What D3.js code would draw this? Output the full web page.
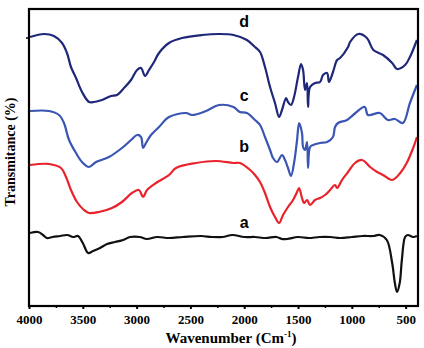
<!DOCTYPE html>
<html><head><meta charset="utf-8">
<script src="https://cdn.jsdelivr.net/npm/d3@7"></script>
<style>body{margin:0;background:#fff}svg{display:block}
.serif{font-family:'Liberation Serif','Times New Roman',Times,serif;font-weight:bold;fill:#000}
.sans{font-family:'Liberation Sans',Arial,sans-serif;font-weight:bold;fill:#000}
</style>
</head><body>
<script>
// wavenumber (cm-1), transmittance (arbitrary offset units)
const curveD = [[3990,269],[3861,272],[3768,270],[3693,263],[3647,253],[3610,239],[3563,228],[3507,214],[3442,204],[3396,204],[3322,206],[3238,210],[3182,211],[3117,218],[3052,226],[2996,236],[2959,238],[2922,230],[2885,236],[2838,244],[2792,253],[2699,263],[2578,268],[2392,271],[2234,272],[2100,271],[1975,266],[1900,259],[1853,254],[1807,239],[1760,219],[1714,203],[1676,189],[1649,196],[1611,208],[1593,204],[1565,201],[1537,209],[1500,229],[1472,242],[1453,236],[1435,216],[1416,223],[1407,199],[1388,219],[1342,223],[1295,224],[1268,231],[1230,233],[1212,224],[1175,234],[1137,246],[1109,248],[1035,259],[1016,264],[940,272],[860,268],[800,256],[710,251],[625,243],[580,237],[505,241],[460,249],[395,266]];
const curveC = [[3990,195],[3814,195],[3721,191],[3675,183],[3628,166],[3563,153],[3507,144],[3442,139],[3377,144],[3257,149],[3136,158],[3052,166],[2996,171],[2959,169],[2940,158],[2913,163],[2866,171],[2792,179],[2699,189],[2541,193],[2485,191],[2355,195],[2234,201],[2100,199],[2040,194],[1975,193],[1900,186],[1853,181],[1807,169],[1760,156],[1732,148],[1695,144],[1649,151],[1621,146],[1593,138],[1565,130],[1537,143],[1509,166],[1490,183],[1463,173],[1453,159],[1435,156],[1416,164],[1407,138],[1388,159],[1360,161],[1295,163],[1230,164],[1175,169],[1156,179],[1128,183],[1044,186],[988,191],[880,199],[850,191],[740,193],[665,186],[600,187],[525,183],[460,203],[395,221]];
const curveB = [[3990,141],[3814,142],[3703,138],[3656,129],[3610,116],[3554,104],[3489,96],[3442,93],[3349,94],[3229,98],[3136,104],[3043,113],[2978,116],[2940,109],[2903,116],[2820,123],[2699,131],[2634,138],[2448,143],[2262,145],[2100,143],[2040,143],[1945,136],[1900,131],[1853,124],[1807,113],[1760,99],[1714,89],[1676,83],[1639,91],[1593,99],[1546,106],[1509,114],[1490,118],[1463,108],[1444,103],[1416,106],[1388,101],[1342,106],[1295,108],[1249,111],[1202,116],[1156,121],[1137,118],[1091,126],[1035,134],[970,143],[905,146],[830,139],[765,134],[710,131],[625,126],[550,133],[490,143],[430,158],[395,169]];
const curveA = [[3990,73],[3915,74],[3870,71],[3835,68],[3780,69],[3710,70],[3645,71],[3590,69],[3545,70],[3500,63],[3450,53],[3405,55],[3340,58],[3275,62],[3200,64],[3125,66],[3060,69],[2970,69],[2905,67],[2810,69],[2700,68],[2570,69],[2400,70],[2300,69],[2200,69],[2110,71],[2000,69],[1900,69],[1800,68],[1700,69],[1650,67],[1600,67],[1500,69],[1400,68],[1300,69],[1200,69],[1110,68],[1000,69],[900,70],[800,70],[740,71],[675,66],[625,43],[600,23],[580,14],[555,23],[535,46],[505,69],[480,71],[430,69],[395,70]];
const seriesNames = ["a","b","c","d"];
const seriesColors = ["#111111","#e8232b","#3b55b3","#1f2878"];
const labelPos = [[2000,78],[2000,154],[2000,205],[2000,279]];
const xTicks = [4000,3500,3000,2500,2000,1500,1000,500];
const xMinor = [3750,3250,2750,2250,1750,1250,750];

const W=424,H=348;
const m={l:29,r:6,t:9,b:42};
const svg=d3.select("body").append("svg").attr("width",W).attr("height",H);
const x=d3.scaleLinear().domain([4000,385]).range([m.l,W-m.r]);
const y=d3.scaleLinear().domain([0,297]).range([H-m.b,m.t]);
const line=d3.line().x(d=>x(d[0])).y(d=>y(d[1])).curve(d3.curveCatmullRom.alpha(0.5));
const data=[curveA,curveB,curveC,curveD];
data.forEach((c,i)=>{
  svg.append("path").attr("d",line(c)).attr("fill","none")
    .attr("stroke",seriesColors[i]).attr("stroke-width",2.2)
    .attr("stroke-linejoin","round");
});
seriesNames.forEach((n,i)=>{
  svg.append("text").attr("class","sans").attr("x",x(labelPos[i][0])).attr("y",y(labelPos[i][1]))
    .attr("text-anchor","middle").style("font-size","16px").text(n);
});
// frame
svg.append("rect").attr("x",m.l).attr("y",m.t).attr("width",W-m.r-m.l).attr("height",H-m.b-m.t)
  .attr("fill","none").attr("stroke","#000").attr("stroke-width",2.2);
// bottom axis
const ax=svg.append("g").attr("transform",`translate(0,${H-m.b})`)
  .call(d3.axisBottom(x).tickValues(xTicks).tickSize(3).tickPadding(6).tickFormat(d3.format("d")));
ax.select(".domain").remove();
ax.selectAll(".tick line").attr("stroke-width",2);
ax.selectAll("text").attr("class","serif").style("font-size","13px");
const axm=svg.append("g").attr("transform",`translate(0,${H-m.b})`)
  .call(d3.axisBottom(x).tickValues(xMinor).tickSize(2).tickFormat(""));
axm.select(".domain").remove();
axm.selectAll(".tick line").attr("stroke-width",1.5);
// left tick
svg.append("line").attr("x1",m.l-3).attr("x2",m.l).attr("y1",y(268)).attr("y2",y(268))
  .attr("stroke","#000").attr("stroke-width",1.5);
// titles
const xt=svg.append("text").attr("class","serif").attr("x",231).attr("y",343).attr("text-anchor","middle")
  .style("font-size","15px");
xt.append("tspan").text("Wavenumber (Cm");
xt.append("tspan").attr("dy",-6).style("font-size","9px").text("-1");
xt.append("tspan").attr("dy",6).text(")");
svg.append("text").attr("class","serif").attr("transform","translate(15,152) rotate(-90)").attr("text-anchor","middle")
  .style("font-size","14px").text("Transmitance (%)");
</script>
</body></html>
